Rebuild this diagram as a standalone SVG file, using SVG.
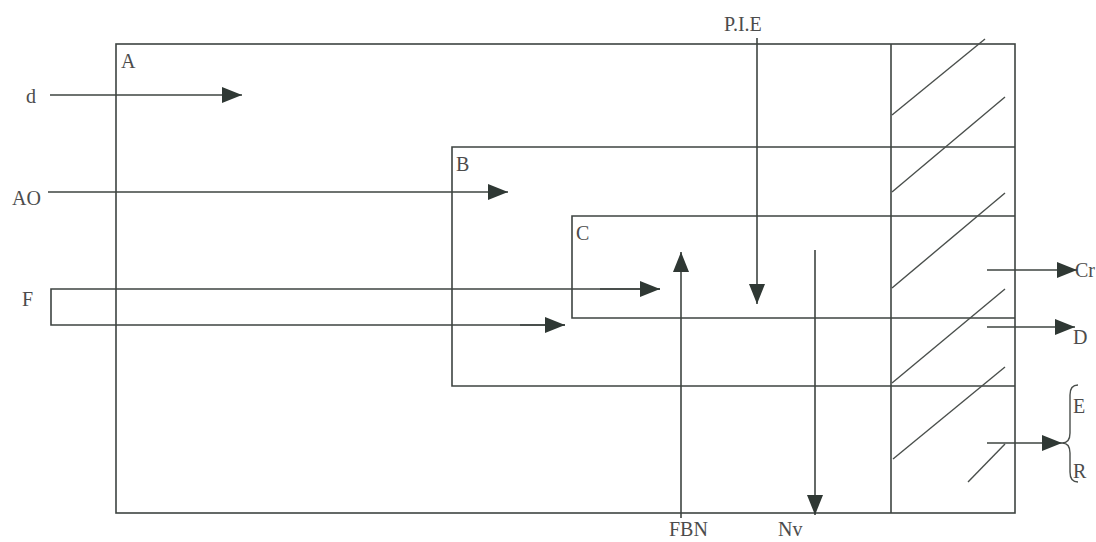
<svg xmlns="http://www.w3.org/2000/svg" width="1096" height="542" viewBox="0 0 1096 542">
<defs>
<style>
.ln{stroke:#3e4441;stroke-width:1.6;fill:none}
.dg{stroke:#4a4f4c;stroke-width:1.4;fill:none}
.t{font-family:"Liberation Serif","Times New Roman",serif;font-size:20px;fill:#4c4c4c}
</style>
<marker id="ah" markerUnits="userSpaceOnUse" markerWidth="22" markerHeight="18" refX="20" refY="8" orient="auto">
<path d="M0,0 L20,8 L0,16 z" fill="#2f3834"/>
</marker>
</defs>
<rect width="1096" height="542" fill="#ffffff"/>
<g id="boxA">
<rect x="116" y="44" width="899" height="469" class="ln"/>
<line x1="891" y1="44" x2="891" y2="513" class="ln"/>
<text x="121" y="68" class="t">A</text>
</g>
<g id="boxB">
<polyline points="1015,147 452,147 452,386 1015,386" class="ln"/>
<text x="456" y="171" class="t">B</text>
</g>
<g id="boxC">
<polyline points="1015,216 572,216 572,318 1015,318" class="ln"/>
<text x="576" y="240" class="t">C</text>
</g>
<g id="hatch">
<line x1="892" y1="115" x2="985" y2="39" class="dg"/>
<line x1="892" y1="192" x2="1005" y2="97" class="dg"/>
<line x1="892" y1="288" x2="1005" y2="193" class="dg"/>
<line x1="892" y1="383" x2="1005" y2="289" class="dg"/>
<line x1="893" y1="459" x2="1005" y2="367" class="dg"/>
<line x1="968" y1="482" x2="1005" y2="444" class="dg"/>
</g>
<g id="labels">
<text x="26" y="103" class="t">d</text>
<text x="12" y="205" class="t">AO</text>
<text x="22" y="306" class="t">F</text>
<text x="724" y="31" class="t">P.I.E</text>
<text x="669" y="536" class="t">FBN</text>
<text x="778" y="536" class="t">Nv</text>
<text x="1075" y="277" class="t">Cr</text>
<text x="1073" y="344" class="t">D</text>
<text x="1073" y="413" class="t">E</text>
<text x="1073" y="478" class="t">R</text>
</g>
<g id="connectors">
<line x1="50" y1="95" x2="242" y2="95" class="ln" marker-end="url(#ah)"/>
<line x1="48" y1="192" x2="508" y2="192" class="ln" marker-end="url(#ah)"/>
<polyline points="660,289 51,289 51,325 565,325" class="ln"/>
<line x1="600" y1="289" x2="660" y2="289" class="ln" marker-end="url(#ah)"/>
<line x1="520" y1="325" x2="565" y2="325" class="ln" marker-end="url(#ah)"/>
<line x1="757" y1="38" x2="757" y2="304" class="ln" marker-end="url(#ah)"/>
<line x1="681" y1="518" x2="681" y2="252" class="ln" marker-end="url(#ah)"/>
<line x1="815" y1="250" x2="815" y2="515" class="ln" marker-end="url(#ah)"/>
<line x1="987" y1="270" x2="1077" y2="270" class="ln" marker-end="url(#ah)"/>
<line x1="987" y1="327" x2="1075" y2="327" class="ln" marker-end="url(#ah)"/>
<line x1="987" y1="443" x2="1062" y2="443" class="ln" marker-end="url(#ah)"/>
<path d="M1078,385 Q1070,385 1070,395 L1070,433 Q1070,443 1062,443 Q1070,443 1070,453 L1070,472 Q1070,482 1078,482" class="dg"/>
</g>
</svg>
